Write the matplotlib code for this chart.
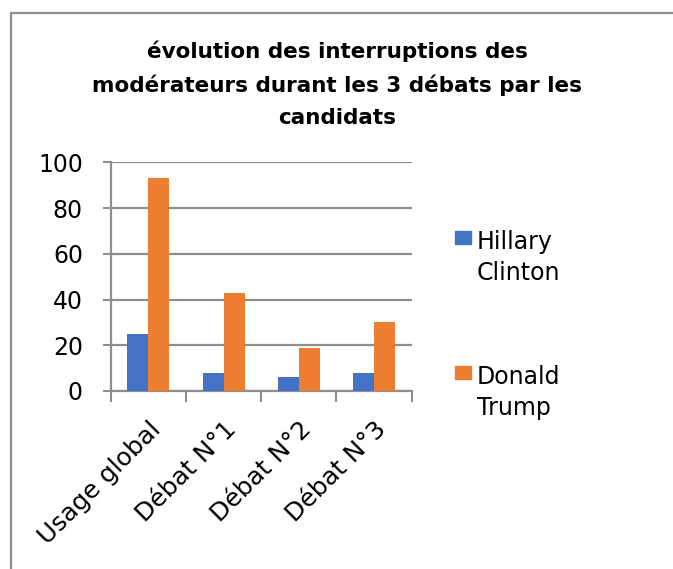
import numpy as np
from matplotlib import pyplot as plt
from matplotlib.patches import Rectangle

# données
categories = ["Usage global", "Débat N°1", "Débat N°2", "Débat N°3"]
series = ["Hillary\nClinton", "Donald\nTrump"]
clinton = [25, 8, 6, 8]
trump = [93, 43, 19, 30]
couleurs = ["#4472C4", "#ED7D31"]
titre = "évolution des interruptions des\nmodérateurs durant les 3 débats par les\ncandidats"

plt.rcParams['font.family'] = ['DejaVu Sans']
gris = "#8e8e8e"

fig = plt.figure(figsize=(6.73, 5.69), dpi=100)
W, H = 673, 569

# cadre extérieur (coupé à droite et en bas)
fig.patches.append(Rectangle((11 / W, -0.1), 1.2, (H - 13) / H + 0.1,
                             transform=fig.transFigure, fill=False,
                             edgecolor=gris, linewidth=1.6))

ax = fig.add_axes([110.7 / W, 178 / H, 301 / W, 228.7 / H])

x = np.arange(len(categories))
larg = 0.28
ax.bar(x - larg / 2, clinton, larg, color=couleurs[0], zorder=3)
ax.bar(x + larg / 2, trump, larg, color=couleurs[1], zorder=3)

ax.set_xlim(-0.5, len(categories) - 0.5)
ax.set_ylim(0, 100)
ax.set_yticks(np.arange(0, 101, 20))
ax.yaxis.grid(True, color=gris, linewidth=1.6, zorder=0)
ax.set_xticks(np.arange(-0.5, len(categories), 1.0))
ax.set_xticklabels([])
ax.set_xticks(x, minor=True)
ax.set_xticklabels(categories, minor=True, rotation=45, ha='right',
                   rotation_mode='anchor', fontsize=18)
ax.tick_params(axis='x', which='minor', length=0, pad=19)
ax.tick_params(axis='x', which='major', length=8, width=1.5, color=gris)
ax.tick_params(axis='y', length=6, width=1.5, color=gris, labelsize=17, pad=14)
for s in ['top', 'right']:
    ax.spines[s].set_visible(False)
for s in ['left', 'bottom']:
    ax.spines[s].set_color(gris)
    ax.spines[s].set_linewidth(1.6)

fig.text(337 / W, 1 - 40 / H, titre, ha='center', va='top', fontsize=15.5,
         fontweight='bold', linespacing=1.75)

# légende
for i, (nom, c) in enumerate(zip(series, couleurs)):
    y0 = 231 + i * 135
    fig.patches.append(Rectangle((455 / W, 1 - (y0 + 13) / H), 16 / W, 13 / H,
                                 transform=fig.transFigure, color=c))
    fig.text(477 / W, 1 - (y0 - 1) / H, nom, ha='left', va='top', fontsize=17,
             linespacing=1.35)

plt.savefig('out.png', dpi=100)
